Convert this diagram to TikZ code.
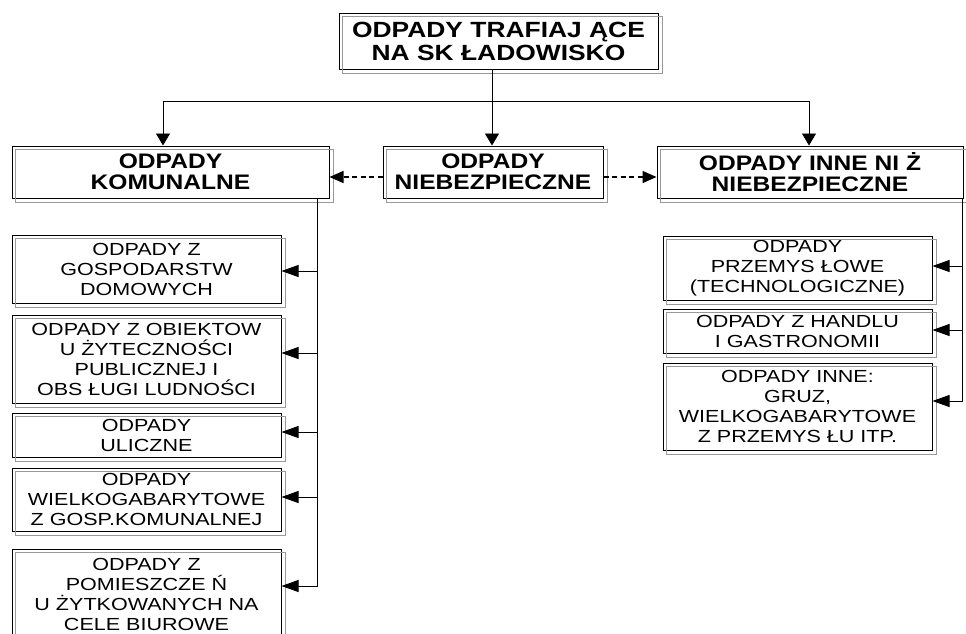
\documentclass[tikz,border=0pt]{standalone}
\usepackage{fontspec}
\newfontfamily\topfont[FakeStretch=1.2]{Liberation Sans}
\newfontfamily\catfont[FakeStretch=1.17]{Liberation Sans}
\newfontfamily\leaffont[FakeStretch=1.23]{Liberation Sans}
\usetikzlibrary{arrows.meta}

\begin{document}
\begin{tikzpicture}[
    x=1pt, y=-1pt,
    box/.style={%
      draw,
      rectangle,
      line width=1pt,
      inner sep=0pt,
      align=center,
    },
    headbox/.style={%
      box,
      font={\topfont\bfseries\fontsize{22}{23}\selectfont},
    },
    catbox/.style={%
      box,
      minimum height=52pt,
      font={\catfont\bfseries\fontsize{21}{21}\selectfont},
    },
    leafbox/.style={%
      box,
      minimum width=269pt,
      font={\leaffont\fontsize{17.5}{20}\selectfont},
    },
    frame/.style={draw=black!40, line width=1pt},
    link/.style={line width=0.85pt},
    arrd/.style={link, -{Triangle[width=14pt,length=12pt]}},
    arrh/.style={link, -{Triangle[width=12pt,length=17pt]}},
    arrs/.style={link, line width=1.4pt, dash pattern=on 5pt off 3.5pt, -{Triangle[width=12pt,length=14pt]}},
  ]
    \useasboundingbox (0,0) rectangle (966,633);
    \clip (0,0) rectangle (966,633);

    % top level
    \node [headbox, minimum width=319pt, minimum height=56pt] (top) at (498.5,41)
      {ODPADY TRAFIAJ ĄCE\\NA SK ŁADOWISKO};

    % categories
    \node [catbox, minimum width=317pt] (kom) at (170.5,172) {ODPADY\\KOMUNALNE};
    \node [catbox, minimum width=220pt] (nieb) at (493,172) {ODPADY\\NIEBEZPIECZNE};
    \node [catbox, minimum width=306pt] (inne) at (810,172) {ODPADY INNE NI Ż\\NIEBEZPIECZNE};

    % municipal waste
    \node [leafbox, minimum height=68pt] (gosp) at (146.5,269) {ODPADY Z\\GOSPODARSTW\\DOMOWYCH};
    \node [leafbox, minimum height=88pt] (obie) at (146.5,359) {ODPADY Z OBIEKTOW\\U ŻYTECZNOŚCI\\PUBLICZNEJ I\\OBS ŁUGI LUDNOŚCI};
    \node [leafbox, minimum height=44pt] (ulic) at (146.5,435) {ODPADY\\ULICZNE};
    \node [leafbox, minimum height=63pt] (wiel) at (146.5,499.5) {ODPADY\\WIELKOGABARYTOWE\\Z GOSP.KOMUNALNEJ};
    \node [leafbox, minimum height=90pt] (biur) at (146.5,594) {ODPADY Z\\POMIESZCZE Ń\\U ŻYTKOWANYCH NA\\CELE BIUROWE};

    % other waste
    \node [leafbox, minimum height=64pt] (prze) at (797.5,268) {ODPADY\\PRZEMYS ŁOWE\\(TECHNOLOGICZNE)};
    \node [leafbox, minimum height=44pt] (hand) at (797.5,331) {ODPADY Z HANDLU\\I GASTRONOMII};
    \node [leafbox, minimum height=87pt] (gruz) at (797.5,406.5) {ODPADY INNE:\\GRUZ,\\WIELKOGABARYTOWE\\Z PRZEMYS ŁU ITP.};

    % grey outlines
    \foreach \n in {top,kom,nieb,inne,gosp,obie,ulic,wiel,biur,prze,hand,gruz}
      \draw [frame] ([shift={(4,4)}]\n.north west) rectangle ([shift={(4,4)}]\n.south east);

    \coordinate (busL) at (163,101);
    \coordinate (busM) at (492,101);
    \coordinate (busR) at (809,101);
    \coordinate (spineL) at (317,198);
    \coordinate (spineR) at (962,198);

    \draw [link] (top.south -| busM) -- (busM);
    \draw [link] (busL) -- (busR);
    \draw [arrd] (busL) -- (busL |- kom.north);
    \draw [arrd] (busM) -- (busM |- nieb.north);
    \draw [arrd] (busR) -- (busR |- inne.north);

    \draw [arrs] (nieb.west |- 0,177) -- (kom.east |- 0,177);
    \draw [arrs] (nieb.east |- 0,177) -- (inne.west |- 0,177);

    \foreach \b/\y in {gosp/271,obie/353,ulic/432,wiel/497}
      \draw [arrh] (spineL |- 0,\y) -- (\b.east |- 0,\y);
    \draw [arrh] (spineL) -- (spineL |- 0,586) -- (biur.east |- 0,586);

    \foreach \b/\y in {prze/266,hand/330}
      \draw [arrh] (spineR |- 0,\y) -- (\b.east |- 0,\y);
    \draw [arrh] (spineR) -- (spineR |- 0,401) -- (gruz.east |- 0,401);
\end{tikzpicture}
\end{document}
